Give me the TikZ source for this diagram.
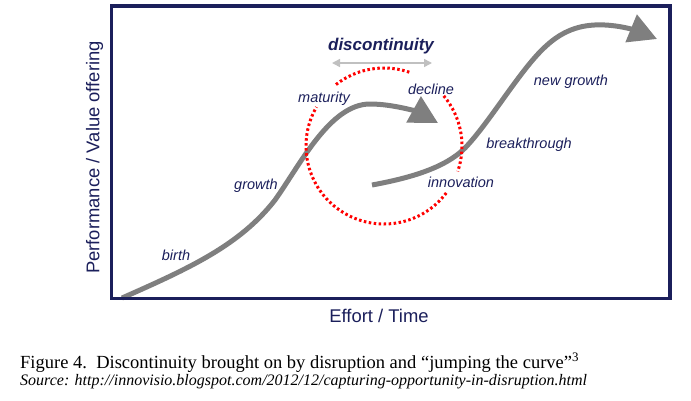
\documentclass[tikz,border=0pt]{standalone}
\usepackage{fontspec}
\setmainfont{Liberation Serif}
\setsansfont{Liberation Sans}
\usetikzlibrary{arrows.meta,positioning,calc}
\definecolor{Navy}{HTML}{1B1F5B}
\definecolor{Curve}{HTML}{7F7F7F}
\definecolor{Ring}{HTML}{FF0000}
\definecolor{GapGray}{HTML}{C0C0C0}
\tikzset{
  framebox/.style={draw=Navy,line width=3.5pt},
  stagelabel/.style={font=\fontsize{14.5}{17}\selectfont\sffamily\itshape,text=Navy,inner sep=1pt},
  gaplabel/.style={font=\fontsize{17}{20}\selectfont\sffamily\bfseries\itshape,text=Navy,inner sep=1pt},
  axislabel/.style={font=\fontsize{18.4}{22}\selectfont\sffamily,text=Navy,inner sep=1pt},
  curveline/.style={-{Triangle[length=28pt,width=29pt]},draw=Curve,line width=5pt},
  ringline/.style={draw=Ring,line width=3pt,dash pattern=on 2.5pt off 2.5pt},
  gapline/.style={{Triangle[length=8pt,width=8pt]}-{Triangle[length=8pt,width=8pt]},draw=GapGray,line width=1.5pt}
}

\begin{document}
\begin{tikzpicture}[x=1pt,y=-1pt]
  \useasboundingbox (0,0) rectangle (691,400);
  \coordinate (ring) at (384,146);
  \coordinate (oldstart) at (122,298);
  \coordinate (oldend) at (438,123);
  \coordinate (newstart) at (372,185);
  \coordinate (newend) at (657,39);
  \coordinate (gapleft) at (332,63);
  \coordinate (gapright) at (432,63);
  % the two s-curves
  \draw[curveline] (oldstart) .. controls (190,268) and (240,245) .. (275,200)
    .. controls (300,165) and (330,104) .. (370,104)
    .. controls (395,104) and (420,113) .. (oldend);
  \draw[curveline] (newstart) .. controls (410,178) and (445,168) .. (465,148)
    .. controls (490,122) and (520,70) .. (545,47)
    .. controls (565,28) and (585,24) .. (605,25)
    .. controls (625,26) and (640,32) .. (newend);
  % dotted ring, broken behind the labels
  \draw[ringline] ([shift={(-128:78)}]ring) arc[start angle=-128,end angle=-70,radius=78];
  \draw[ringline] ([shift={(-323:78)}]ring) arc[start angle=-323,end angle=-150,radius=78];
  \draw[ringline] ([shift={(-40:78)}]ring) arc[start angle=-40,end angle=19,radius=78];
  \draw[framebox] (111.5,6) rectangle (670,298.5);
  \draw[gapline] (gapleft) -- (gapright);
  \node[gaplabel] (gap) at (381,46.5) {discontinuity};
  \node[stagelabel] (birth) at (176,255.5) {birth};
  \node[stagelabel] (growth) at (256,186) {growth};
  \node[stagelabel] (maturity) at (324,99) {maturity};
  \node[stagelabel] (decline) at (431,89) {decline};
  \node[stagelabel] (innovation) at (461,182.5) {innovation};
  \node[stagelabel] (breakthrough) at (529,145) {breakthrough};
  \node[stagelabel] (newgrowth) at (571,81.5) {new growth};
  \node[axislabel,rotate=90] (yaxis) at (94.5,157.5) {Performance / Value offering};
  \node[axislabel] (xaxis) at (379,316) {Effort / Time};
  \node[anchor=base west,inner sep=0pt,font=\fontsize{18.5}{20}\selectfont] (caption) at (20,368)
    {Figure 4.\ \ Discontinuity brought on by disruption and “jumping the curve”\textsuperscript{3}};
  \node[anchor=base west,inner sep=0pt,font=\fontsize{16}{18}\selectfont\itshape] (source) at (20,385)
    {Source: http://innovisio.blogspot.com/2012/12/capturing-opportunity-in-disruption.html};
\end{tikzpicture}
\end{document}
